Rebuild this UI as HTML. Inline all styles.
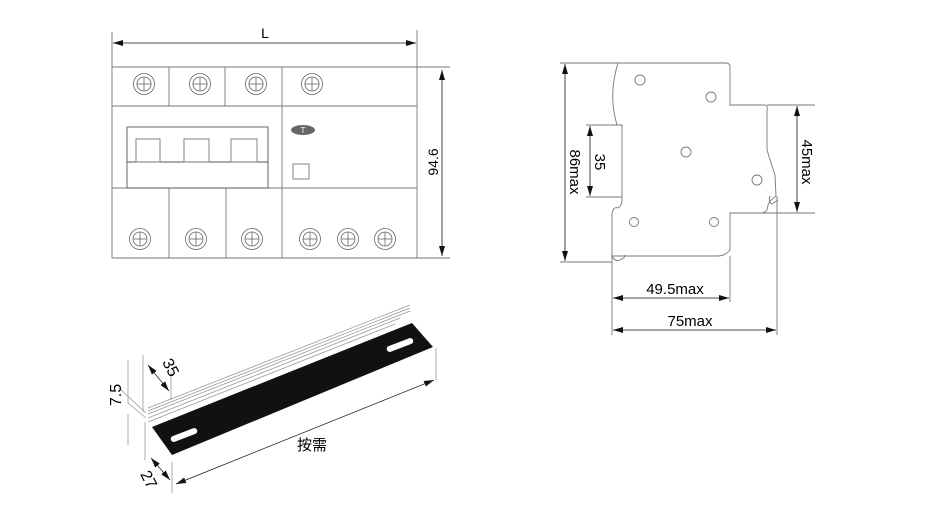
<!DOCTYPE html>
<html><head><meta charset="utf-8"><style>
html,body{margin:0;padding:0;background:#fff;}
svg{display:block;font-family:"Liberation Sans","Noto Sans CJK SC",sans-serif;}
</style></head><body>
<svg width="930" height="513" viewBox="0 0 930 513" xmlns="http://www.w3.org/2000/svg">
<defs>
<marker id="a" markerWidth="10" markerHeight="6" refX="10" refY="3" orient="auto-start-reverse" markerUnits="userSpaceOnUse"><path d="M0,0 L10,3 L0,6 z" fill="#111"/></marker>
<g id="sc"><circle r="10.5" fill="none" stroke="#666" stroke-width="0.8"/><circle r="7" fill="none" stroke="#666" stroke-width="0.8"/><line x1="-7" y1="0" x2="7" y2="0" stroke="#666" stroke-width="0.8"/><line x1="0" y1="-7" x2="0" y2="7" stroke="#666" stroke-width="0.8"/></g>
</defs>
<!-- Front view -->
<g stroke="#777" stroke-width="0.9" fill="none">
<line x1="112" y1="32" x2="112" y2="258"/>
<line x1="417" y1="30" x2="417" y2="258"/>
<line x1="112" y1="67" x2="450" y2="67"/>
<line x1="112" y1="106" x2="417" y2="106"/>
<line x1="112" y1="188" x2="417" y2="188"/>
<line x1="112" y1="258" x2="450" y2="258"/>
<line x1="169" y1="67" x2="169" y2="106"/><line x1="225" y1="67" x2="225" y2="106"/><line x1="282" y1="67" x2="282" y2="258"/>
<line x1="169" y1="188" x2="169" y2="258"/><line x1="226" y1="188" x2="226" y2="258"/>
<rect x="127" y="127" width="141" height="61" stroke="#555"/>
<line x1="127" y1="162" x2="268" y2="162" stroke="#555"/>
<rect x="136" y="139" width="24" height="23"/><rect x="184" y="139" width="25" height="23"/><rect x="231" y="139" width="26" height="23"/>
<rect x="293" y="164" width="16" height="15"/>
</g>
<ellipse cx="303" cy="130" rx="12" ry="5" fill="#666"/>
<text x="303" y="133" font-size="8" fill="#fff" text-anchor="middle">T</text>
<use href="#sc" x="144" y="84"/><use href="#sc" x="200" y="84"/><use href="#sc" x="256" y="84"/><use href="#sc" x="312" y="84"/>
<use href="#sc" x="140" y="239"/><use href="#sc" x="196" y="239"/><use href="#sc" x="252" y="239"/><use href="#sc" x="310" y="239"/><use href="#sc" x="348" y="239"/><use href="#sc" x="385" y="239"/>
<line x1="113" y1="43" x2="416" y2="43" stroke="#111" stroke-width="0.8" marker-start="url(#a)" marker-end="url(#a)"/>
<text x="265" y="38" font-size="14" text-anchor="middle">L</text>
<line x1="442" y1="70" x2="442" y2="256" stroke="#111" stroke-width="0.8" marker-start="url(#a)" marker-end="url(#a)"/>
<text x="0" y="0" font-size="14" text-anchor="middle" transform="translate(438,162) rotate(-90)">94.6</text>

<!-- Side view -->
<g stroke="#777" stroke-width="0.9" fill="none">
<path d="M618,63 L726,63 Q730,63 730,67 L730,105 L765,105 Q768,106 767,110 L767,150 Q770,160 775,175 L776,196 Q770,200 768,205 L767,210 Q765,213 760,213 L730,213 L730,250 Q725,256 718,256 L612,256 L612,213 Q614,206 618,208 Q622,206 622,200 L622,125 L617,125 Q608,95 618,63 Z"/>
<path d="M612,256 Q615,262 620,260 Q625,258 625,255" />
<path d="M770,196 Q768,202 772,204 L778,200"/>
<circle cx="640" cy="80" r="5"/><circle cx="711" cy="97" r="5"/><circle cx="686" cy="152" r="5"/><circle cx="757" cy="180" r="5"/><circle cx="634" cy="222" r="4.5"/><circle cx="714" cy="222" r="4.5"/>
<line x1="560" y1="63" x2="618" y2="63"/><line x1="560" y1="262" x2="612" y2="262"/>
<line x1="586" y1="125" x2="622" y2="125"/><line x1="586" y1="197" x2="622" y2="197"/>
<line x1="767" y1="105" x2="815" y2="105"/><line x1="760" y1="213" x2="815" y2="213"/>
<line x1="612" y1="256" x2="612" y2="335"/><line x1="730" y1="256" x2="730" y2="302"/><line x1="777" y1="196" x2="777" y2="335"/>
</g>
<g stroke="#111" stroke-width="0.8">
<line x1="565" y1="64" x2="565" y2="261" marker-start="url(#a)" marker-end="url(#a)"/>
<line x1="590" y1="126" x2="590" y2="196" marker-start="url(#a)" marker-end="url(#a)"/>
<line x1="797" y1="106" x2="797" y2="212" marker-start="url(#a)" marker-end="url(#a)"/>
<line x1="613" y1="298" x2="729" y2="298" marker-start="url(#a)" marker-end="url(#a)"/>
<line x1="613" y1="330" x2="776" y2="330" marker-start="url(#a)" marker-end="url(#a)"/>
</g>
<text font-size="15" text-anchor="middle" transform="translate(570,172) rotate(90)">86max</text>
<text font-size="15" text-anchor="middle" transform="translate(595,162) rotate(90)">35</text>
<text font-size="15" text-anchor="middle" transform="translate(802,162) rotate(90)">45max</text>
<text x="675" y="294" font-size="15" text-anchor="middle">49.5max</text>
<text x="690" y="326" font-size="15" text-anchor="middle">75max</text>

<!-- Rail -->
<g stroke="#999" stroke-width="0.8">
<line x1="148" y1="408" x2="410" y2="305"/>
<line x1="148" y1="411" x2="410" y2="308"/>
<line x1="148" y1="414" x2="410" y2="311"/>
<line x1="148" y1="418" x2="400" y2="318"/>
<line x1="148" y1="422" x2="395" y2="324"/>
<line x1="128" y1="360" x2="128" y2="403"/><line x1="128" y1="414" x2="128" y2="445"/>
<line x1="143" y1="355" x2="143" y2="412"/><line x1="145" y1="422" x2="145" y2="460"/>
<line x1="119" y1="388" x2="146" y2="413"/><line x1="128" y1="403" x2="146" y2="418"/>
<line x1="172" y1="462" x2="172" y2="493"/><line x1="171" y1="372" x2="171" y2="400"/>
<line x1="436" y1="348" x2="436" y2="380"/>
</g>
<path d="M152,427 L412,323 L433,347 L172,455 Z" fill="#111"/>
<rect x="170" y="432" width="28" height="6" rx="3" fill="#fff" transform="rotate(-21 184 435)"/>
<rect x="386" y="342" width="28" height="6" rx="3" fill="#fff" transform="rotate(-21 400 345)"/>
<g stroke="#111" stroke-width="0.7">
<line x1="176" y1="484" x2="434" y2="380" marker-start="url(#a)" marker-end="url(#a)"/>
<line x1="148" y1="365" x2="169" y2="391" marker-start="url(#a)" marker-end="url(#a)"/>
<line x1="151" y1="458" x2="170" y2="480" marker-start="url(#a)" marker-end="url(#a)"/>
</g>
<text font-size="16" text-anchor="middle" transform="translate(166,370) rotate(62)">35</text>
<text font-size="16" text-anchor="middle" transform="translate(121,395) rotate(-90)">7.5</text>
<text font-size="16" text-anchor="middle" transform="translate(144,482) rotate(62)">27</text>
<text x="312" y="450" font-size="15" text-anchor="middle">按需</text>
</svg>
</body></html>
